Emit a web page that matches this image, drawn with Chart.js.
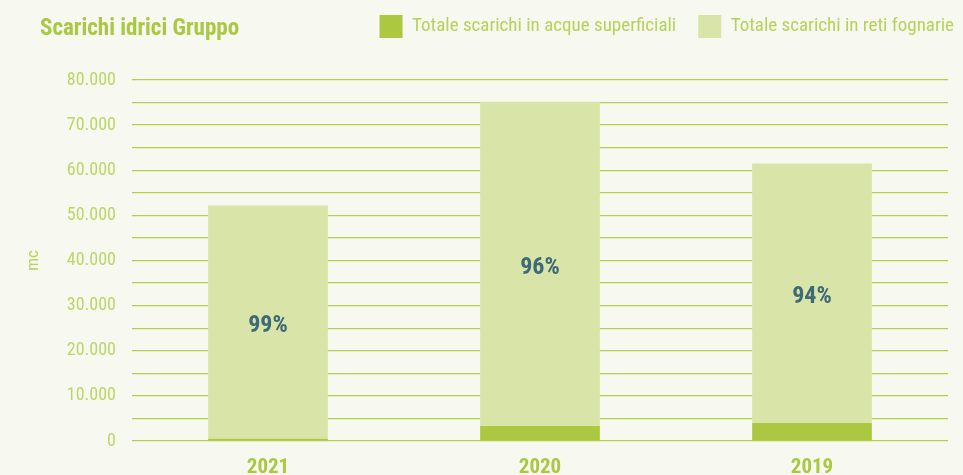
<!DOCTYPE html>
<html>
<head>
<meta charset="utf-8">
<script src="https://cdn.jsdelivr.net/npm/chart.js@4"></script>
<style>
  html, body { margin: 0; padding: 0; background: #f7f8f0; }
  #wrap { position: relative; width: 963px; height: 475px; }
  #title {
    position: absolute; left: 40px; top: 14px;
    font-weight: bold; font-size: 23px; color: #a9c843;
  }
</style>
</head>
<body>
<div id="wrap">
  <canvas id="myChart" width="963" height="475"></canvas>
  <div id="title">Scarichi idrici Gruppo</div>
</div>
<script>
const years = ['2021', '2020', '2019'];
const superficiali = [500, 3300, 4000];
const fognarie = [51700, 71900, 57500];
const percent = ['99%', '96%', '94%'];

// pick a condensed face if one is installed
function pickFont() {
  const c = document.createElement('canvas').getContext('2d');
  const probe = 'Totale scarichi in acque superficiali 80.000';
  c.font = '20px monospace';
  const base = c.measureText(probe).width;
  const names = ['Roboto Condensed', 'DejaVu Sans Condensed', 'Liberation Sans Narrow'];
  for (const n of names) {
    c.font = "20px '" + n + "', monospace";
    if (Math.abs(c.measureText(probe).width - base) > 1) return "'" + n + "', sans-serif";
  }
  return 'Roboto, sans-serif';
}
const font = pickFont();
document.getElementById('title').style.fontFamily = font;

const pctLabels = {
  id: 'pctLabels',
  beforeLayout(chart) {
    const lg = chart.legend;
    if (lg && !lg._patched) {
      const fit = lg.fit;
      lg.fit = function () { fit.call(this); this.height += 32; };
      lg._patched = true;
    }
  },
  afterDatasetsDraw(chart) {
    const ctx = chart.ctx;
    const meta = chart.getDatasetMeta(1);
    ctx.save();
    ctx.font = 'bold 24px ' + font;
    ctx.fillStyle = '#3e6a78';
    ctx.textAlign = 'center';
    ctx.textBaseline = 'middle';
    meta.data.forEach((bar, i) => {
      ctx.fillText(percent[i], bar.x, (bar.y + bar.base) / 2 + 4);
    });
    ctx.restore();
  }
};

var ctx = document.getElementById('myChart').getContext('2d');
var myChart = new Chart(ctx, {
  type: 'bar',
  data: {
    labels: years,
    datasets: [{
      label: 'Totale scarichi in acque superficiali',
      data: superficiali,
      backgroundColor: '#acc841',
      borderWidth: 0
    }, {
      label: 'Totale scarichi in reti fognarie',
      data: fognarie,
      backgroundColor: '#d9e4a9',
      borderWidth: 0
    }]
  },
  options: {
    responsive: false,
    animation: false,
    layout: { padding: { top: -7, right: -13, bottom: 0, left: 0 } },
    datasets: { bar: { barPercentage: 0.44, categoryPercentage: 1 } },
    plugins: {
      legend: {
        position: 'top',
        align: 'end',
        labels: {
          boxWidth: 23,
          boxHeight: 23,
          padding: 22,
          color: '#b5d35a',
          font: { family: font, size: 19 }
        }
      },
      tooltip: { enabled: false }
    },
    scales: {
      x: {
        stacked: true,
        afterFit(scale) { scale.height = 34; },
        grid: { display: false, drawTicks: false },
        border: { display: false },
        ticks: {
          color: '#a9c843',
          padding: 14,
          font: { family: font, size: 21, weight: 'bold' }
        }
      },
      y: {
        stacked: true,
        min: 0,
        max: 80000,
        afterFit(scale) { scale.width = 132; },
        grid: { color: '#b3cf4c', lineWidth: 1.3, drawTicks: false },
        border: { display: false },
        title: {
          display: true,
          text: 'mc',
          color: '#b5d35a',
          padding: { top: 24, bottom: 0 },
          font: { family: font, size: 17 }
        },
        ticks: {
          stepSize: 5000,
          autoSkip: false,
          padding: 16,
          color: '#bcd66a',
          font: { family: font, size: 18 },
          callback: v => v % 10000 === 0 ? v.toLocaleString('it-IT') : ''
        }
      },
      spacer: {
        position: 'right',
        afterFit(scale) { scale.width = 28; },
        grid: { display: false, drawTicks: false },
        border: { display: false },
        ticks: { display: false }
      }
    }
  },
  plugins: [pctLabels]
});
</script>
</body>
</html>
